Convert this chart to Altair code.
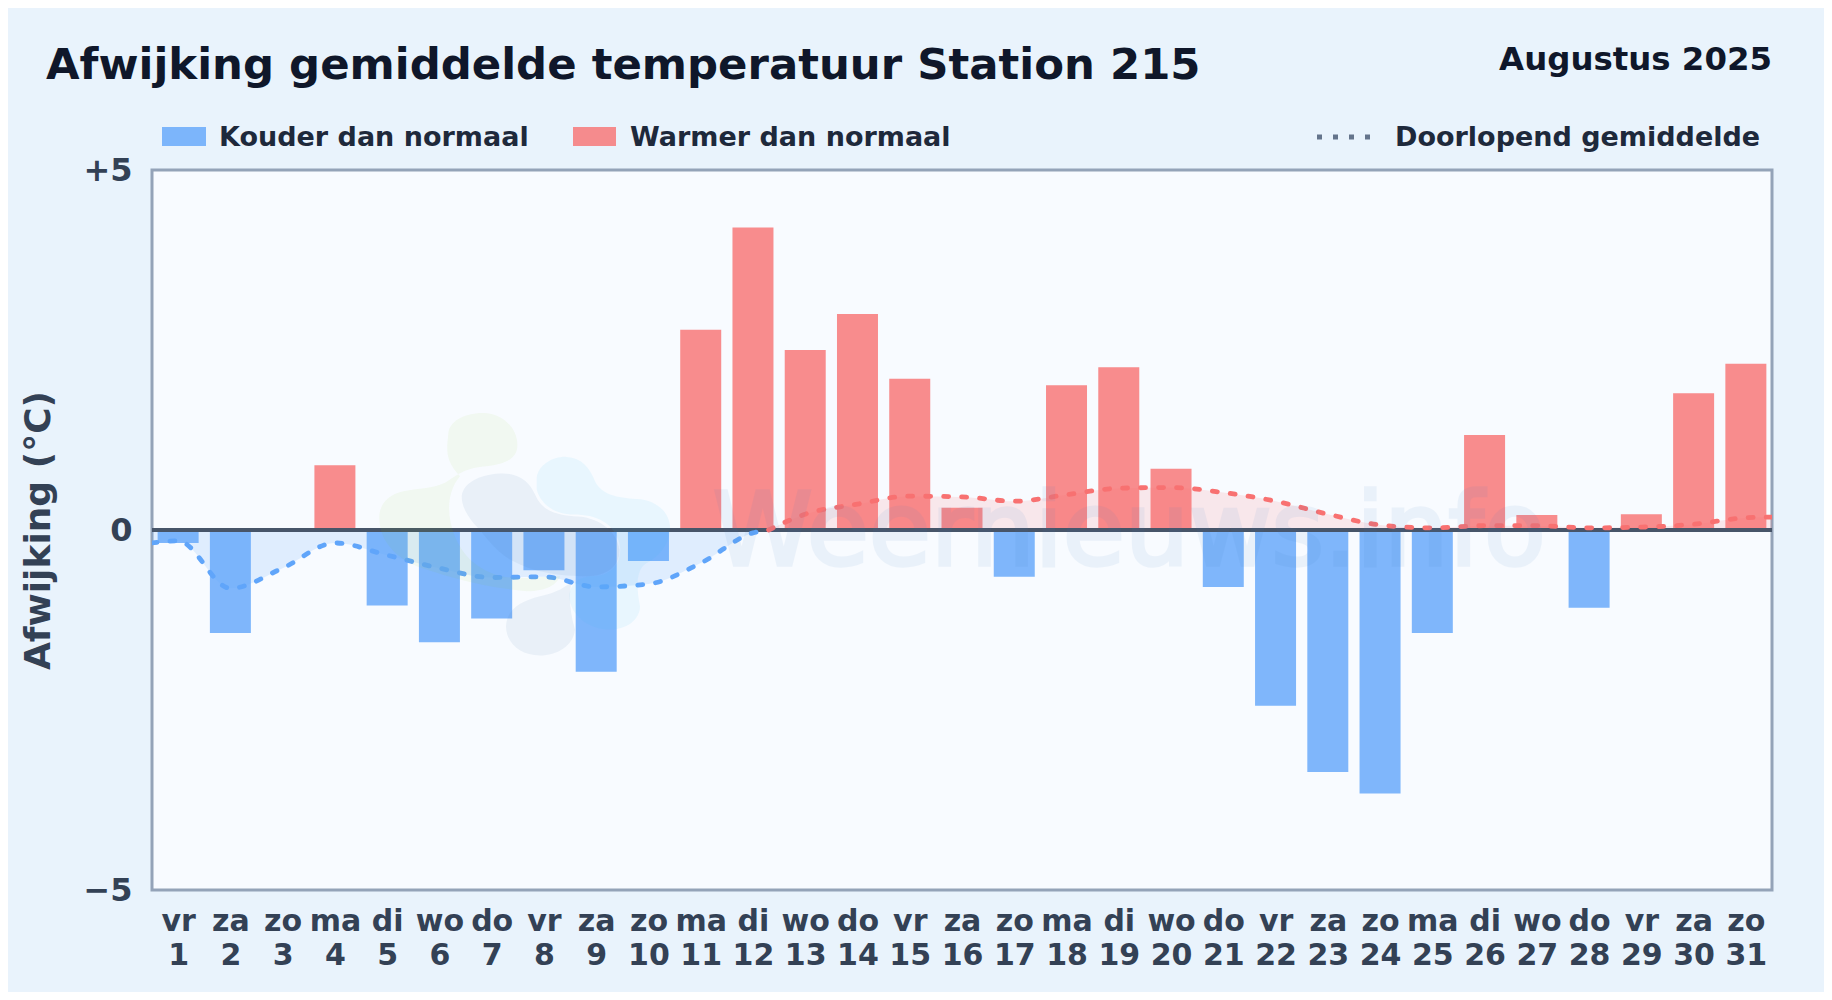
import altair as alt
import pandas as pd

WEEKDAYS = ["vr","za","zo","ma","di","wo","do","vr","za","zo","ma","di","wo","do","vr","za","zo","ma","di","wo","do","vr","za","zo","ma","di","wo","do","vr","za","zo"]
DAYS = list(range(1, 32))
ANOMALY = [-0.18,-1.43,0,0.90,-1.05,-1.56,-1.23,-0.56,-1.97,-0.43,2.78,4.20,2.50,3.00,2.10,0.31,-0.65,2.01,2.26,0.85,-0.79,-2.44,-3.36,-3.66,-1.43,1.32,0.21,-1.08,0.22,1.90,2.31]
MEAN_X = [0.5,1,2,3,4,5,6,7,8,9,10,11,12,12.3,13,14,15,16,17,18,19,20,21,22,23,24,25,26,27,28,29,30,31,31.5]
MEAN_Y = [-0.18,-0.15,-0.81,-0.53,-0.18,-0.35,-0.53,-0.66,-0.65,-0.79,-0.75,-0.46,-0.04,0,0.22,0.36,0.47,0.46,0.40,0.49,0.58,0.59,0.52,0.40,0.22,0.07,0.03,0.06,0.06,0.03,0.04,0.08,0.17,0.18]
TITLE = "Afwijking gemiddelde temperatuur Station 215"
PERIOD = "Augustus 2025"
LEGEND_COLD = "Kouder dan normaal"
LEGEND_WARM = "Warmer dan normaal"
LEGEND_LINE = "Doorlopend gemiddelde"
WATERMARK = "Weernieuws.info"

FONT = "DejaVu Sans"
BG = "#e9f3fc"
COLD = "#60a5fa"
WARM = "#f87171"

def norm(pairs):
    out = []
    for cmd, pts in pairs:
        out.append(cmd + " ".join(f"{(x-500)/500:.3f},{(y-400)/500:.3f}" for x, y in pts))
    return " ".join(out) + " Z"

BLOB_GREEN = norm([("M",[(265,100)]),("C",[(270,60),(320,40),(370,40)]),("C",[(430,40),(475,90),(472,140)]),("C",[(470,180),(430,195),(380,200)]),("C",[(320,205),(300,220),(270,240)]),("C",[(240,265),(190,265),(130,275)]),("C",[(80,285),(55,320),(58,360)]),("C",[(60,420),(100,470),(170,500)]),("C",[(260,530),(350,560),(500,575)]),("C",[(560,575),(590,555),(600,530)]),("C",[(500,530),(420,560),(330,480)]),("C",[(270,420),(240,300),(300,230)]),("C",[(250,180),(262,140),(265,100)])])
BLOB_GREY_A = norm([("M",[(305,290)]),("C",[(310,245),(370,222),(430,222)]),("C",[(480,222),(510,250),(525,285)]),("C",[(545,330),(580,345),(640,350)]),("C",[(710,350),(770,390),(778,450)]),("C",[(780,500),(740,530),(680,530)]),("C",[(600,530),(520,520),(450,480)]),("C",[(400,450),(370,400),(340,370)]),("C",[(320,345),(305,320),(305,290)])])
BLOB_GREY_B = norm([("M",[(438,680)]),("C",[(440,630),(480,605),(540,590)]),("C",[(590,580),(620,560),(635,545)]),("C",[(625,590),(630,640),(645,690)]),("C",[(640,740),(590,768),(540,768)]),("C",[(480,768),(438,730),(438,680)])])
BLOB_BLUE = norm([("M",[(530,235)]),("C",[(535,195),(580,170),(620,172)]),("C",[(665,175),(690,205),(705,245)]),("C",[(725,285),(770,295),(830,298)]),("C",[(890,300),(930,340),(930,385)]),("C",[(930,430),(900,470),(860,490)]),("C",[(825,510),(830,570),(840,620)]),("C",[(840,660),(800,690),(750,690)]),("C",[(690,690),(630,650),(628,590)]),("C",[(630,550),(660,530),(700,530)]),("C",[(760,530),(790,480),(778,430)]),("C",[(760,370),(710,345),(640,345)]),("C",[(580,345),(540,310),(530,270)])])

W, H = 1620, 720
bars = pd.DataFrame({"day": DAYS, "v": ANOMALY})
bars["kind"] = ["warm" if v > 0 else "cold" for v in ANOMALY]
mean = pd.DataFrame({"day": MEAN_X, "v": MEAN_Y})
mean_cold = mean[mean.v <= 0]
mean_warm = mean[mean.v >= 0]

x_scale = alt.Scale(domain=[0.5, 31.5], nice=False, zero=False, padding=0)
y_scale = alt.Scale(domain=[-5, 5], nice=False)
wd = "[" + ",".join(f"'{d}'" for d in WEEKDAYS) + "]"
x_enc = alt.X("day:Q", scale=x_scale, axis=alt.Axis(
    values=DAYS, title=None, domain=False, ticks=False, grid=False,
    labelExpr=f"[{wd}[datum.value-1], '' + datum.value]",
    labelFont=FONT, labelFontSize=30, labelFontWeight="bold", labelColor="#334155",
    labelLineHeight=34, labelPadding=16, labelOverlap=False, labelFlush=False, labelBound=False))
y_enc = alt.Y("v:Q", scale=y_scale, axis=alt.Axis(
    values=[-5, 0, 5], title="Afwijking (°C)", domain=False, ticks=False, grid=False,
    labelExpr="datum.value > 0 ? '+5' : datum.value < 0 ? '−5' : '0'",
    labelFont=FONT, labelFontSize=32, labelFontWeight="bold", labelColor="#334155",
    labelPadding=20, labelBaseline="middle",
    titleFont=FONT, titleFontSize=36, titleFontWeight="bold", titleColor="#334155",
    titleX=-114, titleY=360, titleAlign="center", titleBaseline="middle", titleAngle=270))

def area(df, color, op):
    return alt.Chart(df).mark_area(color=color, opacity=op, interpolate="monotone", clip=True).encode(
        x=x_enc, y=y_enc, y2=alt.datum(0))

def line(df, color):
    return alt.Chart(df).mark_line(color=color, strokeWidth=4.8, strokeDash=[5, 13], strokeCap="round", interpolate="monotone", clip=True).encode(
        x=x_enc, y=y_enc)

bar_layer = alt.Chart(bars).mark_bar(size=41, opacity=0.8).encode(
    x=x_enc, y=y_enc, y2=alt.datum(0),
    color=alt.Color("kind:N", scale=alt.Scale(domain=["cold", "warm"], range=[COLD, WARM]), legend=None))

zero = alt.Chart(pd.DataFrame({"v": [0]})).mark_rule(color="#475569", strokeWidth=4).encode(y=y_enc)

def blob(path, color, op):
    return alt.Chart(pd.DataFrame({"day": [7.67], "v": [-0.04]})).mark_point(
        shape=path, size=111111, filled=True, color=color, opacity=op, strokeWidth=0).encode(x=x_enc, y=y_enc)

wm = alt.Chart(pd.DataFrame({"day": [19.2], "v": [-0.49], "t": [WATERMARK]})).mark_text(
    font=FONT, fontSize=101, color="#3b7dc4", stroke="#3b7dc4", strokeWidth=3.5, opacity=0.07,
    baseline="alphabetic", align="center").encode(x=x_enc, y=y_enc, text="t:N")

# page coordinates of the plot area's top-left corner
OX, OY = 152, 170
MARGIN = 8
def label(text, px, py, size, color, align="left"):
    return alt.Chart(pd.DataFrame({"t": [text]})).mark_text(
        font=FONT, fontSize=size, fontWeight="bold", color=color, align=align, baseline="alphabetic").encode(
        x=alt.value(px - OX), y=alt.value(py - OY), text="t:N")

def swatch(x0, x1, color):
    return alt.Chart(pd.DataFrame({"a": [0]})).mark_rect(color=color, opacity=0.8).encode(
        x=alt.value(x0 - OX), x2=alt.value(x1 - OX), y=alt.value(127 - OY), y2=alt.value(146 - OY))

dots = alt.Chart(pd.DataFrame({"a": [0]})).mark_rule(color="#64748b", strokeWidth=5, strokeDash=[5, 11]).encode(
    x=alt.value(1317 - OX), x2=alt.value(1374 - OX), y=alt.value(137 - OY))

chart = alt.layer(
    area(mean_cold, COLD, 0.16), area(mean_warm, WARM, 0.14),
    bar_layer, zero, line(mean_cold, COLD), line(mean_warm, WARM),
    blob(BLOB_GREEN, "#84cc16", 0.06), blob(BLOB_GREY_A, "#3b6ea5", 0.08), blob(BLOB_GREY_B, "#3b6ea5", 0.08), blob(BLOB_BLUE, "#38bdf8", 0.08),
    wm,
    label(TITLE, 46, 79, 43.4, "#0f172a"),
    label(PERIOD, 1772, 70, 32.4, "#0f172a", "right"),
    swatch(162, 206, COLD), label(LEGEND_COLD, 219, 146, 27, "#1e293b"),
    swatch(573, 616, WARM), label(LEGEND_WARM, 630, 146, 27, "#1e293b"),
    dots, label(LEGEND_LINE, 1395, 146, 27, "#1e293b"),
).properties(
    width=W, height=H,
    background=BG,
    padding={"left": OX - MARGIN, "top": OY - MARGIN, "right": 52, "bottom": 102},
    autosize=alt.AutoSizeParams(type="none"),
).configure_view(fill="#f8fbff", stroke="#94a3b8", strokeWidth=3)

chart.save("out.html", embed_options={"renderer": "svg", "actions": False})
